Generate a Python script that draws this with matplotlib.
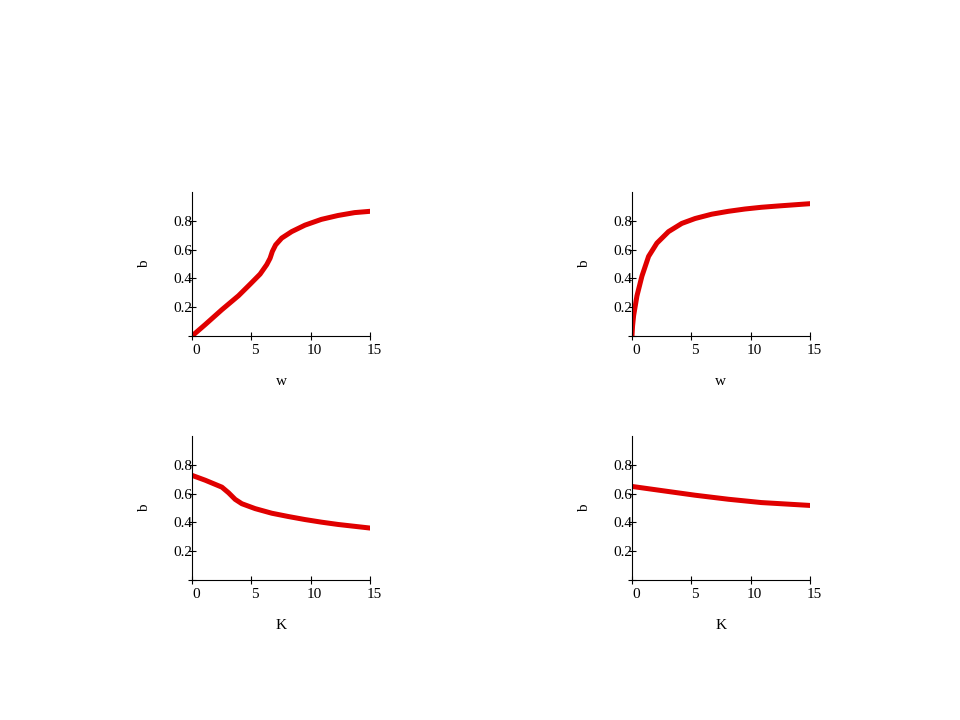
import matplotlib
matplotlib.use("Agg")
import matplotlib.pyplot as plt
from matplotlib.transforms import ScaledTranslation

plt.rcParams['font.family'] = ['Liberation Serif', 'DejaVu Serif']
plt.rcParams['font.size'] = 11

# values
w_a = [0, 1.12, 2.52, 3.92, 4.9, 5.74, 6.3, 6.58, 6.77, 7.05, 7.56, 8.4, 9.52, 10.9, 12.3, 13.7, 15]
b_a = [0, 0.08, 0.183, 0.28, 0.36, 0.43, 0.496, 0.54, 0.587, 0.633, 0.68, 0.725, 0.77, 0.81, 0.837, 0.857, 0.866]

w_b = [0, 0.05, 0.14, 0.42, 0.84, 1.4, 2.1, 3.08, 4.2, 5.32, 6.72, 8.12, 9.52, 10.9, 12.3, 15]
b_b = [0, 0.07, 0.142, 0.279, 0.416, 0.553, 0.645, 0.725, 0.782, 0.816, 0.846, 0.866, 0.882, 0.894, 0.903, 0.919]

K_c = [0, 1.12, 2.52, 3.08, 3.64, 4.2, 5.32, 6.72, 8.12, 9.52, 10.9, 12.3, 13.7, 15]
b_c = [0.727, 0.693, 0.645, 0.606, 0.56, 0.53, 0.496, 0.464, 0.441, 0.42, 0.402, 0.386, 0.373, 0.361]

K_d = [0, 2.52, 5.32, 8.12, 10.9, 15]
b_d = [0.65, 0.621, 0.589, 0.561, 0.538, 0.518]

panels = [
    ([0.2, 0.5333, 0.1854, 0.2], w_a, b_a, "w"),
    ([0.6583, 0.5333, 0.1854, 0.2], w_b, b_b, "w"),
    ([0.2, 0.1944, 0.1854, 0.2], K_c, b_c, "K"),
    ([0.6583, 0.1944, 0.1854, 0.2], K_d, b_d, "K"),
]

fig = plt.figure(figsize=(9.6, 7.2), dpi=100)
for rect, xs, ys, xl in panels:
    ax = fig.add_axes(rect)
    ax.plot(xs, ys, color='#e00000', linewidth=3.6, solid_capstyle='round',
            solid_joinstyle='round')
    ax.set_xlim(0, 15)
    ax.set_ylim(0, 1)
    ax.spines['top'].set_visible(False)
    ax.spines['right'].set_visible(False)
    ax.set_xticks([0, 5, 10, 15])
    ax.set_yticks([0, 0.2, 0.4, 0.6, 0.8])
    ax.set_yticklabels(["", "0.2", "0.4", "0.6", "0.8"])
    ax.tick_params(axis='y', direction='inout', length=6, pad=-3)
    ax.tick_params(axis='x', direction='inout', length=6, pad=3)
    for lab in ax.get_xticklabels():
        lab.set_transform(lab.get_transform() + ScaledTranslation(4 / 100, 0, fig.dpi_scale_trans))
    ax.set_xlabel(xl, labelpad=13)
    ax.set_ylabel("b", labelpad=16)

fig.savefig("out.png", dpi=100)
